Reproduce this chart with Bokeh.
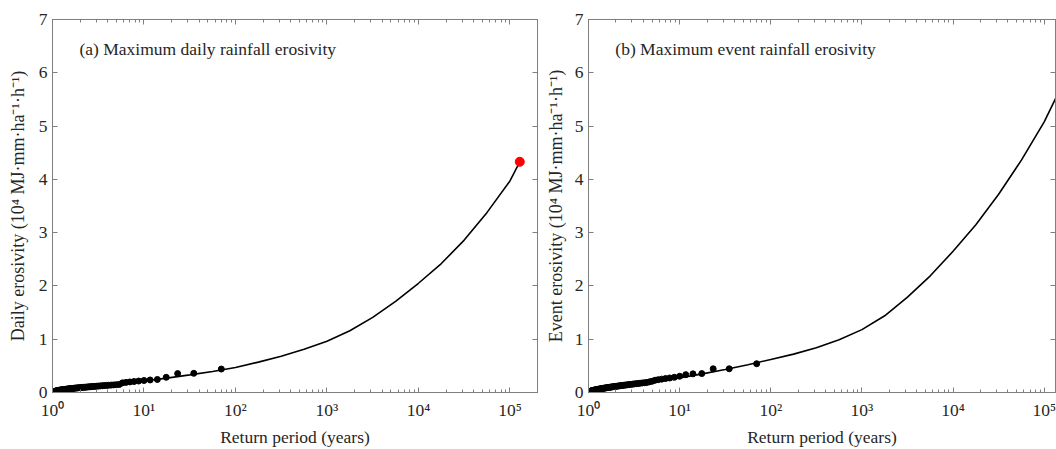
from bokeh.plotting import figure
from bokeh.layouts import row
from bokeh.models import (LogAxis, LinearAxis, FixedTicker, Range1d, Label,
                          CustomJSTickFormatter)
from bokeh.embed import file_html
from bokeh.resources import INLINE

# ---------------- data ----------------
return_period = [70.0, 35.0, 23.33, 17.5, 14.0, 11.67, 10.0, 8.75, 7.78, 7.0,
                 6.36, 5.83, 5.38, 5.0, 4.67, 4.38, 4.12, 3.89, 3.68, 3.5,
                 3.33, 3.18, 3.04, 2.92, 2.8, 2.69, 2.59, 2.5, 2.41, 2.33,
                 2.26, 2.19, 2.12, 2.06, 2.0, 1.94, 1.89, 1.84, 1.79, 1.75,
                 1.71, 1.67, 1.63, 1.59, 1.56, 1.52, 1.49, 1.46, 1.43, 1.4,
                 1.37, 1.35, 1.32, 1.3, 1.27, 1.25, 1.23, 1.21, 1.19, 1.17,
                 1.15, 1.13, 1.11, 1.09, 1.08, 1.06, 1.04, 1.03, 1.01]

daily_obs = [0.44, 0.36, 0.355, 0.285, 0.245, 0.235, 0.225, 0.215, 0.206, 0.198,
             0.19, 0.181, 0.152, 0.147, 0.143, 0.139, 0.136, 0.133, 0.13, 0.127,
             0.124, 0.121, 0.118, 0.116, 0.113, 0.111, 0.108, 0.106, 0.103, 0.101,
             0.099, 0.097, 0.095, 0.093, 0.091, 0.089, 0.087, 0.085, 0.083, 0.081,
             0.079, 0.077, 0.075, 0.073, 0.071, 0.069, 0.067, 0.065, 0.063, 0.061,
             0.059, 0.057, 0.055, 0.053, 0.051, 0.049, 0.047, 0.045, 0.043, 0.041,
             0.038, 0.035, 0.032, 0.029, 0.026, 0.022, 0.018, 0.014, 0.008]

event_obs = [0.54, 0.445, 0.445, 0.355, 0.35, 0.335, 0.305, 0.285, 0.272, 0.262,
             0.251, 0.241, 0.23, 0.212, 0.2, 0.19, 0.184, 0.179, 0.174, 0.169,
             0.165, 0.161, 0.157, 0.153, 0.149, 0.145, 0.142, 0.138, 0.135, 0.132,
             0.128, 0.125, 0.122, 0.119, 0.116, 0.113, 0.11, 0.107, 0.104, 0.101,
             0.098, 0.095, 0.092, 0.09, 0.087, 0.084, 0.082, 0.079, 0.076, 0.074,
             0.071, 0.068, 0.066, 0.063, 0.06, 0.058, 0.055, 0.052, 0.05, 0.047,
             0.044, 0.041, 0.038, 0.035, 0.031, 0.027, 0.022, 0.017, 0.01]

daily_fit_T = [1.0, 1.26, 1.5, 2.0, 3.16, 5.62, 10.0, 17.8, 31.6, 56.2, 100.0,
               178.0, 316.0, 562.0, 1000.0, 1778.0, 3162.0, 5623.0, 10000.0,
               17783.0, 31623.0, 56234.0, 100000.0, 128000.0]
daily_fit = [0.0, 0.05, 0.065, 0.085, 0.12, 0.165, 0.215, 0.27, 0.33, 0.395, 0.47,
             0.57, 0.68, 0.81, 0.96, 1.16, 1.41, 1.71, 2.05, 2.42, 2.86, 3.38,
             3.97, 4.33]

event_fit_T = [1.0, 1.26, 1.5, 2.0, 3.16, 5.62, 10.0, 17.8, 31.6, 56.2, 100.0,
               178.0, 316.0, 562.0, 1000.0, 1778.0, 3162.0, 5623.0, 10000.0,
               17783.0, 31623.0, 56234.0, 100000.0, 136000.0]
event_fit = [0.0, 0.05, 0.07, 0.1, 0.145, 0.205, 0.275, 0.35, 0.43, 0.52, 0.62,
             0.72, 0.84, 0.99, 1.18, 1.44, 1.79, 2.19, 2.65, 3.15, 3.72, 4.36,
             5.08, 5.55]

daily_max_T = [128000.0]
daily_max = [4.33]

x_major = [1, 10, 100, 1000, 10000, 100000]
x_labels = ["10⁰", "10¹", "10²", "10³", "10⁴", "10⁵"]
y_major = [0, 1, 2, 3, 4, 5, 6, 7]

titles = ["(a) Maximum daily rainfall erosivity", "(b) Maximum event rainfall erosivity"]
y_titles = ["Daily erosivity (10⁴ MJ·mm·ha⁻¹·h⁻¹)", "Event erosivity (10⁴ MJ·mm·ha⁻¹·h⁻¹)"]
x_title = "Return period (years)"

# ---------------- styling ----------------
FONT = "Liberation Serif"
AX = "#7f7f7f"
TXT = "#262626"
minor = [m * 10 ** k for k in range(0, 6) for m in range(2, 10)]


def make_xticker():
    return FixedTicker(ticks=x_major, minor_ticks=minor)


def style_axis(ax, is_x):
    ax.axis_line_color = AX
    ax.major_tick_line_color = AX
    ax.minor_tick_line_color = AX
    ax.major_tick_in = 5
    ax.major_tick_out = 0
    ax.minor_tick_in = 3 if is_x else 0
    ax.minor_tick_out = 0
    ax.major_label_text_font = FONT
    ax.major_label_text_color = TXT
    ax.major_label_text_font_size = "17.5px"
    ax.axis_label_text_font = FONT
    ax.axis_label_text_color = TXT
    ax.axis_label_text_font_style = "normal"
    ax.axis_label_text_font_size = "17.5px"


def blank_axis(ax):
    ax.formatter = CustomJSTickFormatter(code="return ''")
    ax.major_label_text_font_size = "6px"
    ax.major_label_standoff = 0


def x_label_js():
    mapping = ", ".join(f"{v}: '{s}'" for v, s in zip(x_major, x_labels))
    return CustomJSTickFormatter(
        code="const m = {" + mapping + "}; const k = Math.round(tick);"
             " return (k in m) ? m[k] : '';")


def make_panel(width, left, right, x_end, title, ytitle, ystand, obs,
               fit_T, fit):
    p = figure(width=width, height=449, x_axis_type="log",
               x_range=Range1d(1, x_end), y_range=Range1d(0, 7),
               output_backend="svg", toolbar_location=None,
               min_border_left=left, min_border_right=right,
               min_border_top=19, min_border_bottom=51)
    p.grid.visible = False
    p.outline_line_color = AX
    p.background_fill_color = "white"
    p.border_fill_color = "white"

    xa = p.xaxis[0]
    xa.ticker = make_xticker()
    xa.formatter = x_label_js()
    style_axis(xa, True)
    xa.major_label_standoff = 7
    xa.axis_label = x_title
    xa.axis_label_standoff = 4

    ya = p.yaxis[0]
    ya.ticker = FixedTicker(ticks=y_major, minor_ticks=[])
    style_axis(ya, False)
    ya.major_label_standoff = 5
    ya.axis_label = ytitle
    ya.axis_label_text_font_size = "18px"
    ya.axis_label_standoff = ystand

    top = LogAxis(ticker=make_xticker())
    style_axis(top, True)
    blank_axis(top)
    p.add_layout(top, "above")
    rt = LinearAxis(ticker=FixedTicker(ticks=y_major, minor_ticks=[]))
    style_axis(rt, False)
    blank_axis(rt)
    p.add_layout(rt, "right")

    p.line(fit_T, fit, line_color="black", line_width=1.6)
    p.scatter(return_period, obs, size=6, color="black")

    p.add_layout(Label(x=1.97, y=6.45, text=title, text_font=FONT,
                       text_font_size="17.5px", text_color=TXT,
                       text_baseline="middle"))
    return p


p1 = make_panel(542, 52, 5, 2e5, titles[0], y_titles[0], 8, daily_obs,
                daily_fit_T, daily_fit)
p1.scatter(daily_max_T, daily_max, size=9, color="red")
p2 = make_panel(514, 40, 1, 1.33e5, titles[1], y_titles[1], 6, event_obs,
                event_fit_T, event_fit)

layout = row(p1, p2)
open("out.html", "w").write(file_html(layout, INLINE))
